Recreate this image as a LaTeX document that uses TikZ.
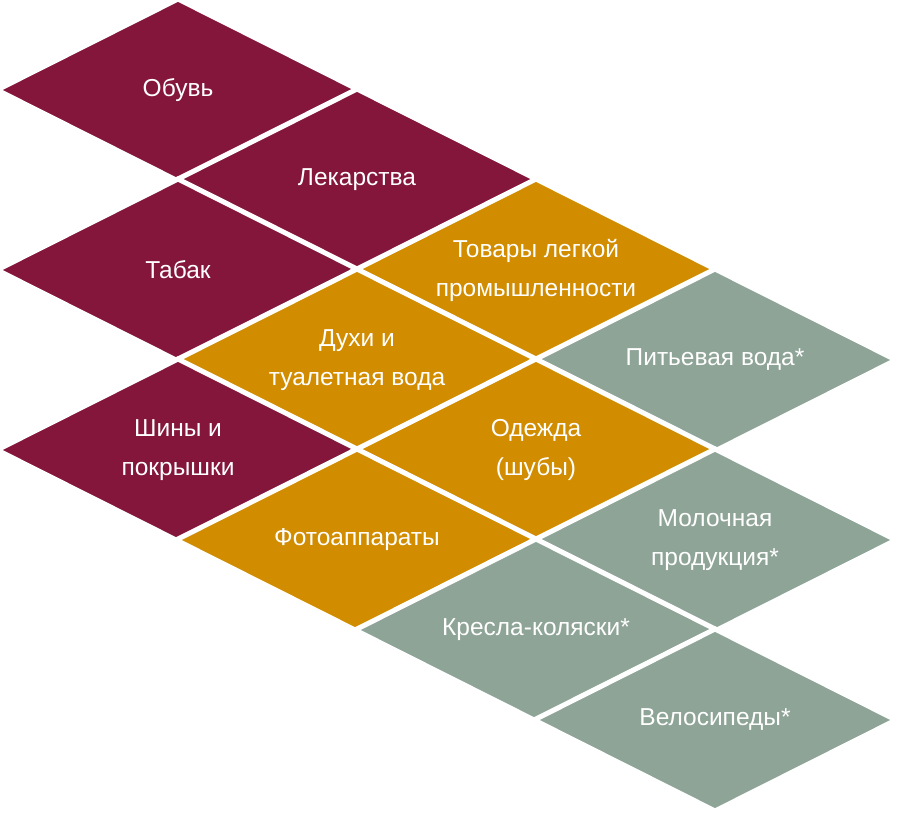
\documentclass[tikz,border=0pt]{standalone}
\usepackage{fontspec}
\setmainfont{Liberation Sans}
\usetikzlibrary{shapes.geometric}
\definecolor{maroon}{HTML}{84153B}
\definecolor{gold}{HTML}{D18C00}
\definecolor{sage}{HTML}{8EA497}
\tikzset{
  dia/.style={shape=diamond, shape aspect=2, minimum width=364pt, minimum height=184pt,
    inner sep=0pt, draw=white, line width=5pt, text=white, align=center,
    font=\fontsize{24.5}{39}\selectfont},
  mr/.style={dia, fill=maroon},
  gd/.style={dia, fill=gold},
  sg/.style={dia, fill=sage}
}
\begin{document}
\begin{tikzpicture}[x=1pt, y=-1pt]
\useasboundingbox (0,0) rectangle (897,813);
\node[mr] (obuv) at (178,90) {Обувь};
\node[mr] (lek) at (357,180) {Лекарства};
\node[mr] (tabak) at (178,270) {Табак};
\node[gd] (tovary) at (536,270) {Товары легкой\\промышленности};
\node[gd] (duhi) at (357,360) {Духи и\\туалетная вода};
\node[sg] (voda) at (715,360) {Питьевая вода*};
\node[mr] (shiny) at (178,450) {Шины и\\покрышки};
\node[gd] (odezhda) at (536,450) {Одежда\\(шубы)};
\node[gd] (foto) at (357,540) {Фотоаппараты};
\node[sg] (moloko) at (715,540) {Молочная\\продукция*};
\node[sg] (kresla) at (536,630) {Кресла-коляски*};
\node[sg] (velo) at (715,720) {Велосипеды*};
\end{tikzpicture}
\end{document}
